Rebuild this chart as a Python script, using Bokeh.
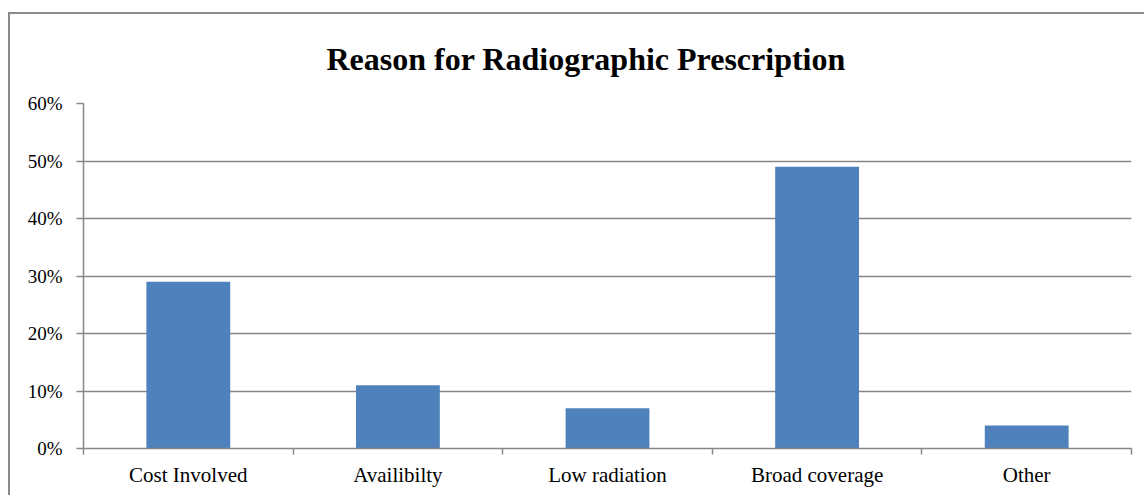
from bokeh.plotting import figure
from bokeh.models import FixedTicker, NumeralTickFormatter, Range1d, ColumnDataSource
from bokeh.embed import file_html
from bokeh.resources import INLINE

title_text = "Reason for Radiographic Prescription"
categories = ["Cost Involved", "Availibilty", "Low radiation", "Broad coverage", "Other"]
values = [0.29, 0.11, 0.07, 0.49, 0.04]
y_ticks = [0.0, 0.1, 0.2, 0.3, 0.4, 0.5, 0.6]

n = len(categories)
centers = [i + 0.5 for i in range(n)]
bounds = [float(i) for i in range(n + 1)]

src = ColumnDataSource(dict(x=centers, top=values, cat=categories))

GRAY = "#868686"
FONT = "Liberation Serif"

p = figure(width=1136, height=483, output_backend="svg", toolbar_location=None,
           x_range=Range1d(0, n), y_range=Range1d(0, 0.6),
           min_border_left=73, min_border_right=15, min_border_top=89, min_border_bottom=49)
p.styles = {"margin-top": "12px", "margin-left": "8px",
            "border-top": "2px solid #8a8a8a", "border-left": "2px solid #8a8a8a"}

p.vbar(x="x", top="top", width=0.4, source=src, color="#4F81BD", line_color=None)

p.title.text = title_text
p.title.text_font = FONT
p.title.text_font_style = "bold"
p.title.text_font_size = "32px"
p.title.text_color = "black"
p.title.align = "left"
p.title.vertical_align = "top"
p.title.standoff = 50
p.title.offset = 243

p.outline_line_color = None
p.background_fill_color = "white"
p.border_fill_color = "white"

p.xgrid.visible = False
p.ygrid.ticker = FixedTicker(ticks=y_ticks)
p.ygrid.grid_line_color = GRAY
p.ygrid.grid_line_width = 1.5

xa = p.xaxis[0]
xa.ticker = FixedTicker(ticks=centers, minor_ticks=bounds)
xa.major_label_overrides = {c: cat for c, cat in zip(centers, categories)}
xa.major_tick_line_color = None
xa.major_tick_out = 0
xa.major_tick_in = 0
xa.minor_tick_line_color = GRAY
xa.minor_tick_line_width = 1.5
xa.minor_tick_out = 6
xa.minor_tick_in = 0
xa.axis_line_color = GRAY
xa.axis_line_width = 1.5
xa.major_label_text_font = FONT
xa.major_label_text_font_size = "21px"
xa.major_label_text_color = "black"
xa.major_label_standoff = 8

ya = p.yaxis[0]
ya.ticker = FixedTicker(ticks=y_ticks)
ya.formatter = NumeralTickFormatter(format="0%")
ya.major_tick_line_color = GRAY
ya.major_tick_line_width = 1.5
ya.major_tick_out = 7
ya.major_tick_in = 0
ya.minor_tick_line_color = None
ya.axis_line_color = GRAY
ya.axis_line_width = 1.5
ya.major_label_text_font = FONT
ya.major_label_text_font_size = "19px"
ya.major_label_text_color = "black"
ya.major_label_standoff = 14

open("out.html", "w").write(file_html(p, INLINE))
